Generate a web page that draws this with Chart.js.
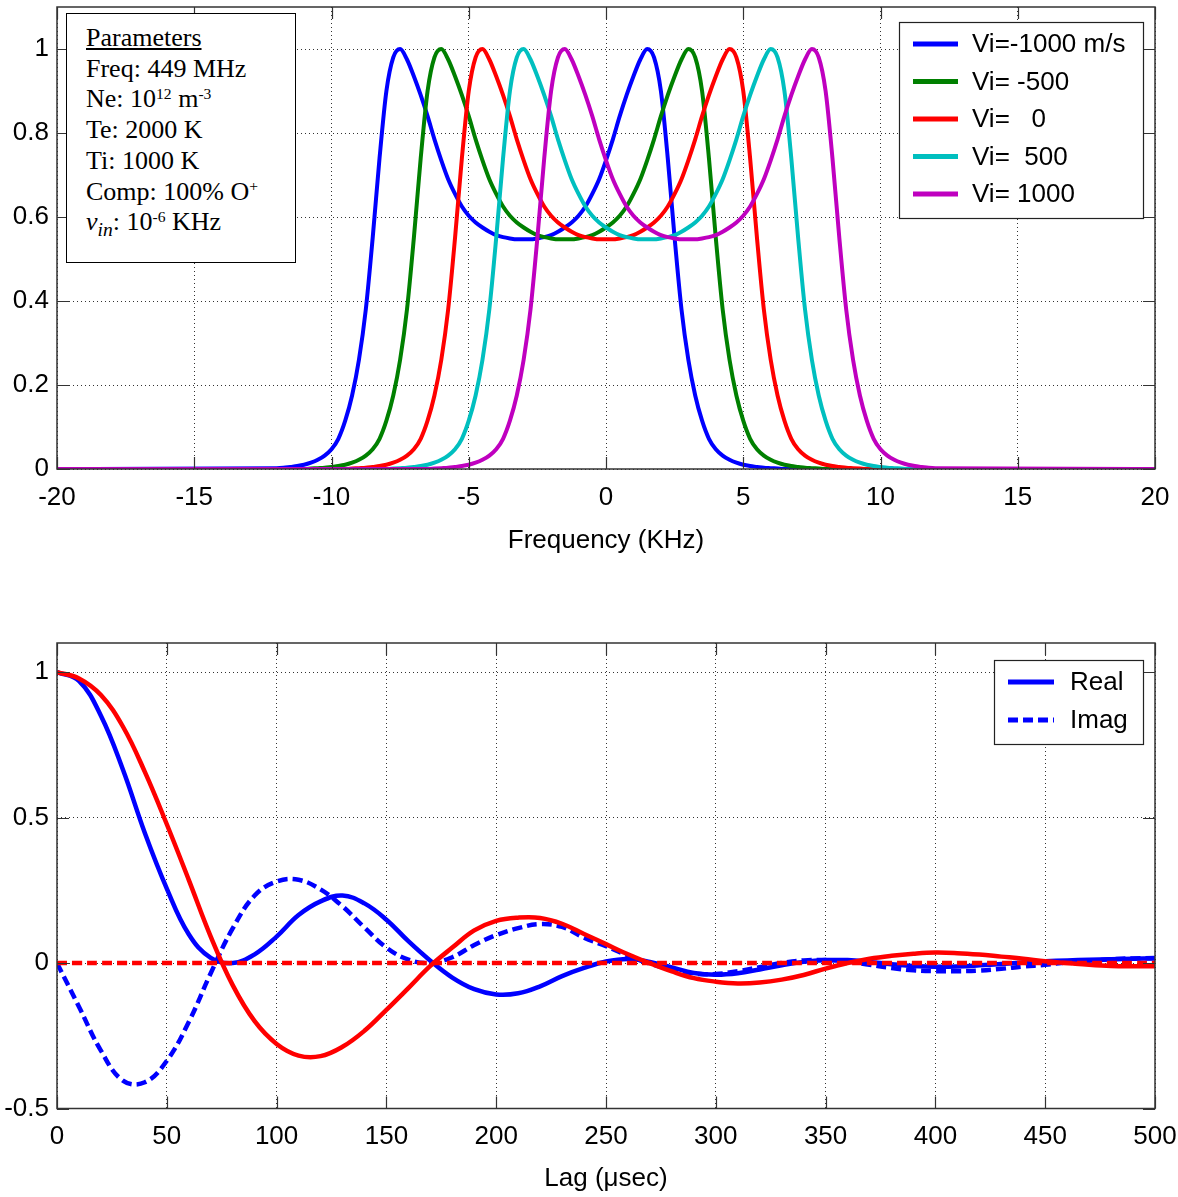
<!DOCTYPE html>
<html>
<head>
<meta charset="utf-8">
<title>Ion-line spectra and ACF</title>
<script src="https://cdn.jsdelivr.net/npm/chart.js@4.4.1/dist/chart.umd.min.js"></script>
<style>
  html, body { margin: 0; padding: 0; background: #fff; }
  #page { position: relative; width: 1178px; height: 1197px; overflow: hidden; }
  .panel { position: absolute; left: 0; width: 1178px; }
  #spec-wrap { top: 0; height: 580px; }
  #acf-wrap { top: 600px; height: 597px; }
  #params {
    position: absolute; left: 66px; top: 13px; width: 230px; height: 250px;
    box-sizing: border-box; border: 1px solid #000; background: #fff;
    padding: 9px 0 0 19px;
    font-family: "Liberation Serif", "Times New Roman", serif;
    font-size: 26px; line-height: 30.7px; color: #000;
  }
  #params sup { font-size: 60%; position: relative; top: -0.55em; vertical-align: baseline; line-height: 0; }
  #params sub { font-size: 75%; position: relative; top: 0.3em; vertical-align: baseline; line-height: 0; }
</style>
</head>
<body>
<div id="page">
  <div class="panel" id="spec-wrap"><canvas id="specChart"></canvas></div>
  <div class="panel" id="acf-wrap"><canvas id="acfChart"></canvas></div>
  <div id="params">
    <div><u>Parameters</u></div>
    <div>Freq: 449 MHz</div>
    <div>Ne: 10<sup>12</sup> m<sup>-3</sup></div>
    <div>Te: 2000 K</div>
    <div>Ti: 1000 K</div>
    <div>Comp: 100% O<sup>+</sup></div>
    <div><i>v</i><sub><i>in</i></sub>: 10<sup>-6</sup> KHz</div>
  </div>
</div>

<script>
// ---- top panel: spectra vs frequency (KHz) ----
const freqKHz = [-20,
  -12, -11.75, -11.5, -11.25, -11, -10.75, -10.5, -10.25,
  -10, -9.75, -9.5, -9.25, -9, -8.75, -8.5, -8.25,
  -8, -7.75, -7.5, -7.25, -7, -6.75, -6.5, -6.25,
  -6, -5.75, -5.5, -5.25, -5, -4.75, -4.5, -4.25,
  -4, -3.75, -3.5, -3.25, -3, -2.75, -2.5, -2.25,
  -2, -1.75, -1.5, -1.25, -1, -0.75, -0.5, -0.25,
  0, 0.25, 0.5, 0.75, 1, 1.25, 1.5, 1.75,
  2, 2.25, 2.5, 2.75, 3, 3.25, 3.5, 3.75,
  4, 4.25, 4.5, 4.75, 5, 5.25, 5.5, 5.75,
  6, 6.25, 6.5, 6.75, 7, 7.25, 7.5, 7.75,
  8, 8.25, 8.5, 8.75, 9, 9.25, 9.5, 9.75,
  10, 10.25, 10.5, 10.75, 11, 11.25, 11.5, 11.75,
  12,
  20];

const specVm1000 = [0,
  0.002, 0.003, 0.005, 0.007, 0.01, 0.015, 0.022, 0.032,
  0.047, 0.072, 0.115, 0.175, 0.26, 0.38, 0.55, 0.74,
  0.90, 0.98, 1.0, 0.975, 0.935, 0.89, 0.84, 0.785,
  0.735, 0.69, 0.655, 0.625, 0.603, 0.587, 0.575, 0.565,
  0.557, 0.552, 0.549, 0.547, 0.547, 0.547, 0.549, 0.552,
  0.557, 0.565, 0.575, 0.587, 0.603, 0.625, 0.655, 0.69,
  0.735, 0.785, 0.84, 0.89, 0.935, 0.975, 1.0, 0.98,
  0.90, 0.74, 0.55, 0.38, 0.26, 0.175, 0.115, 0.072,
  0.047, 0.032, 0.022, 0.015, 0.01, 0.007, 0.005, 0.003,
  0.002, 0.001, 0, 0, 0, 0, 0, 0,
  0, 0, 0, 0, 0, 0, 0, 0,
  0, 0, 0, 0, 0, 0, 0, 0,
  0,
  0];

const specVm500 = [0,
  0, 0, 0, 0, 0, 0.001, 0.002, 0.003,
  0.005, 0.007, 0.01, 0.015, 0.022, 0.032, 0.047, 0.072,
  0.115, 0.175, 0.26, 0.38, 0.55, 0.74, 0.90, 0.98,
  1.0, 0.975, 0.935, 0.89, 0.84, 0.785, 0.735, 0.69,
  0.655, 0.625, 0.603, 0.587, 0.575, 0.565, 0.557, 0.552,
  0.549, 0.547, 0.547, 0.547, 0.549, 0.552, 0.557, 0.565,
  0.575, 0.587, 0.603, 0.625, 0.655, 0.69, 0.735, 0.785,
  0.84, 0.89, 0.935, 0.975, 1.0, 0.98, 0.90, 0.74,
  0.55, 0.38, 0.26, 0.175, 0.115, 0.072, 0.047, 0.032,
  0.022, 0.015, 0.01, 0.007, 0.005, 0.003, 0.002, 0.001,
  0, 0, 0, 0, 0, 0, 0, 0,
  0, 0, 0, 0, 0, 0, 0, 0,
  0,
  0];

const specV0 = [0,
  0, 0, 0, 0, 0, 0, 0, 0,
  0, 0, 0, 0.001, 0.002, 0.003, 0.005, 0.007,
  0.01, 0.015, 0.022, 0.032, 0.047, 0.072, 0.115, 0.175,
  0.26, 0.38, 0.55, 0.74, 0.90, 0.98, 1.0, 0.975,
  0.935, 0.89, 0.84, 0.785, 0.735, 0.69, 0.655, 0.625,
  0.603, 0.587, 0.575, 0.565, 0.557, 0.552, 0.549, 0.547,
  0.547, 0.547, 0.549, 0.552, 0.557, 0.565, 0.575, 0.587,
  0.603, 0.625, 0.655, 0.69, 0.735, 0.785, 0.84, 0.89,
  0.935, 0.975, 1.0, 0.98, 0.90, 0.74, 0.55, 0.38,
  0.26, 0.175, 0.115, 0.072, 0.047, 0.032, 0.022, 0.015,
  0.01, 0.007, 0.005, 0.003, 0.002, 0.001, 0, 0,
  0, 0, 0, 0, 0, 0, 0, 0,
  0,
  0];

const specV500 = [0,
  0, 0, 0, 0, 0, 0, 0, 0,
  0, 0, 0, 0, 0, 0, 0, 0,
  0, 0.001, 0.002, 0.003, 0.005, 0.007, 0.01, 0.015,
  0.022, 0.032, 0.047, 0.072, 0.115, 0.175, 0.26, 0.38,
  0.55, 0.74, 0.90, 0.98, 1.0, 0.975, 0.935, 0.89,
  0.84, 0.785, 0.735, 0.69, 0.655, 0.625, 0.603, 0.587,
  0.575, 0.565, 0.557, 0.552, 0.549, 0.547, 0.547, 0.547,
  0.549, 0.552, 0.557, 0.565, 0.575, 0.587, 0.603, 0.625,
  0.655, 0.69, 0.735, 0.785, 0.84, 0.89, 0.935, 0.975,
  1.0, 0.98, 0.90, 0.74, 0.55, 0.38, 0.26, 0.175,
  0.115, 0.072, 0.047, 0.032, 0.022, 0.015, 0.01, 0.007,
  0.005, 0.003, 0.002, 0.001, 0, 0, 0, 0,
  0,
  0];

const specV1000 = [0,
  0, 0, 0, 0, 0, 0, 0, 0,
  0, 0, 0, 0, 0, 0, 0, 0,
  0, 0, 0, 0, 0, 0, 0, 0.001,
  0.002, 0.003, 0.005, 0.007, 0.01, 0.015, 0.022, 0.032,
  0.047, 0.072, 0.115, 0.175, 0.26, 0.38, 0.55, 0.74,
  0.90, 0.98, 1.0, 0.975, 0.935, 0.89, 0.84, 0.785,
  0.735, 0.69, 0.655, 0.625, 0.603, 0.587, 0.575, 0.565,
  0.557, 0.552, 0.549, 0.547, 0.547, 0.547, 0.549, 0.552,
  0.557, 0.565, 0.575, 0.587, 0.603, 0.625, 0.655, 0.69,
  0.735, 0.785, 0.84, 0.89, 0.935, 0.975, 1.0, 0.98,
  0.90, 0.74, 0.55, 0.38, 0.26, 0.175, 0.115, 0.072,
  0.047, 0.032, 0.022, 0.015, 0.01, 0.007, 0.005, 0.003,
  0.002,
  0];

const freqTicks = [-20, -15, -10, -5, 0, 5, 10, 15, 20];
const specTicks = [0, 0.2, 0.4, 0.6, 0.8, 1];

// ---- bottom panel: ACF vs lag (usec) ----
const lagUsec = [0, 10, 20, 30, 40, 50, 60, 70, 80, 90,
  100, 110, 120, 130, 140, 150, 160, 170, 180, 190,
  200, 210, 220, 230, 240, 250, 260, 270, 280, 290,
  300, 310, 320, 330, 340, 350, 360, 370, 380, 390,
  400, 410, 420, 430, 440, 450, 460, 470, 480, 490,
  500];

const blueReal = [1.0, 0.97, 0.85, 0.665, 0.447, 0.256, 0.099, 0.018, 0.0, 0.03,
  0.091, 0.165, 0.212, 0.232, 0.205, 0.149, 0.075, 0.008, -0.05, -0.09,
  -0.108, -0.104, -0.08, -0.045, -0.017, 0.005, 0.014, 0.004, -0.015, -0.034,
  -0.04, -0.035, -0.022, -0.008, 0.004, 0.01, 0.01, 0.004, -0.004, -0.01,
  -0.013, -0.012, -0.008, -0.003, 0.002, 0.006, 0.009, 0.011, 0.013, 0.015,
  0.016];

const blueImag = [0, -0.15, -0.301, -0.404, -0.41, -0.336, -0.203, -0.035, 0.119, 0.232,
  0.28, 0.286, 0.253, 0.195, 0.122, 0.053, 0.012, 0.0, 0.02, 0.062,
  0.096, 0.12, 0.134, 0.124, 0.087, 0.058, 0.026, -0.002, -0.022, -0.036,
  -0.038, -0.028, -0.014, 0.0, 0.009, 0.01, 0.005, -0.006, -0.017, -0.025,
  -0.028, -0.028, -0.026, -0.02, -0.012, -0.006, 0.002, 0.008, 0.013, 0.016,
  0.017];

const redReal = [1.0, 0.978, 0.921, 0.813, 0.657, 0.477, 0.286, 0.091, -0.076, -0.2,
  -0.278, -0.318, -0.32, -0.288, -0.233, -0.161, -0.086, -0.01, 0.053, 0.112,
  0.145, 0.156, 0.155, 0.135, 0.1, 0.065, 0.03, -0.001, -0.029, -0.052,
  -0.064, -0.07, -0.067, -0.057, -0.041, -0.019, 0.0, 0.015, 0.025, 0.032,
  0.036, 0.034, 0.029, 0.022, 0.015, 0.006, 0.0, -0.006, -0.01, -0.011,
  -0.011];

const redImag = [0, 0, 0, 0, 0, 0, 0, 0, 0, 0,
  0, 0, 0, 0, 0, 0, 0, 0, 0, 0,
  0, 0, 0, 0, 0, 0, 0, 0, 0, 0,
  0, 0, 0, 0, 0, 0, 0, 0, 0, 0,
  0, 0, 0, 0, 0, 0, 0, 0, 0, 0,
  0];

const lagTicks = [0, 50, 100, 150, 200, 250, 300, 350, 400, 450, 500];
const acfTicks = [-0.5, 0, 0.5, 1];

const FONT_FAMILY = '"Liberation Sans", Arial, Helvetica, sans-serif';
const TEXT_FONT = { family: FONT_FAMILY, size: 26 };
const TICK_LEN = 12;

function toPoints(xs, ys) {
  return xs.map((x, i) => ({ x: x, y: ys[i] }));
}

// box + inward tick marks, the matlab look
const axesFrame = {
  id: "axesFrame",
  afterDraw(chart) {
    const { ctx, chartArea: a, scales } = chart;
    ctx.save();
    ctx.strokeStyle = "#333";
    ctx.lineWidth = 1.5;
    ctx.strokeRect(a.left, a.top, a.right - a.left, a.bottom - a.top);
    ctx.beginPath();
    scales.x.ticks.forEach(t => {
      const px = Math.round(scales.x.getPixelForValue(t.value)) + 0.5;
      ctx.moveTo(px, a.bottom); ctx.lineTo(px, a.bottom - TICK_LEN);
      ctx.moveTo(px, a.top); ctx.lineTo(px, a.top + TICK_LEN);
    });
    scales.y.ticks.forEach(t => {
      const py = Math.round(scales.y.getPixelForValue(t.value)) + 0.5;
      ctx.moveTo(a.left, py); ctx.lineTo(a.left + TICK_LEN, py);
      ctx.moveTo(a.right, py); ctx.lineTo(a.right - TICK_LEN, py);
    });
    ctx.lineWidth = 1.2;
    ctx.stroke();
    ctx.restore();
  }
};

const boxLegend = {
  id: "boxLegend",
  afterDraw(chart, args, opts) {
    const { ctx } = chart;
    ctx.save();
    ctx.fillStyle = "#fff";
    ctx.fillRect(opts.x, opts.y, opts.w, opts.h);
    ctx.strokeStyle = "#222";
    ctx.lineWidth = 1.2;
    ctx.strokeRect(opts.x + 0.5, opts.y + 0.5, opts.w, opts.h);
    ctx.font = `${TEXT_FONT.size}px ${FONT_FAMILY}`;
    ctx.textBaseline = "middle";
    opts.items.forEach((idx, n) => {
      const ds = chart.data.datasets[idx];
      const y = opts.y + opts.first + n * opts.step;
      ctx.strokeStyle = ds.borderColor;
      ctx.lineWidth = 5;
      ctx.setLineDash(ds.borderDash || []);
      ctx.beginPath();
      ctx.moveTo(opts.x + opts.lineFrom, y);
      ctx.lineTo(opts.x + opts.lineTo, y);
      ctx.stroke();
      ctx.setLineDash([]);
      ctx.fillStyle = "#000";
      ctx.fillText(ds.label, opts.x + opts.textX, y + 1);
    });
    ctx.restore();
  }
};

function axis(cfg) {
  return {
    type: "linear",
    min: cfg.min,
    max: cfg.max,
    afterBuildTicks: s => { s.ticks = cfg.ticks.map(v => ({ value: v })); },
    afterFit: cfg.fit,
    grid: { color: "rgba(0,0,0,0.8)", lineWidth: 1, drawTicks: false },
    border: { display: false, dash: [1, 3] },
    ticks: {
      color: "#000", font: TEXT_FONT, padding: cfg.pad,
      autoSkip: false, maxRotation: 0, callback: v => String(v)
    },
    title: cfg.title
      ? { display: true, text: cfg.title, color: "#000", font: TEXT_FONT, padding: { top: 0, bottom: cfg.titlePad } }
      : { display: false }
  };
}

function baseOptions(padTop, legendOpts, scales, interp) {
  return {
    responsive: true,
    maintainAspectRatio: false,
    animation: false,
    events: [],
    layout: { padding: { top: padTop, right: 23, left: 0, bottom: 0 } },
    elements: { point: { radius: 0 }, line: interp },
    plugins: { legend: { display: false }, tooltip: { enabled: false }, boxLegend: legendOpts },
    scales: scales
  };
}

// top: spectra
const specSeries = [
  { label: "Vi=-1000 m/s", values: specVm1000, color: "#0000ff", order: 5 },
  { label: "Vi= -500", values: specVm500, color: "#008000", order: 4 },
  { label: "Vi=   0", values: specV0, color: "#ff0000", order: 3 },
  { label: "Vi=  500", values: specV500, color: "#00bfbf", order: 2 },
  { label: "Vi= 1000", values: specV1000, color: "#bf00bf", order: 1 }
];

new Chart(document.getElementById("specChart"), {
  type: "line",
  data: {
    datasets: specSeries.map(s => ({
      label: s.label,
      data: toPoints(freqKHz, s.values),
      borderColor: s.color,
      borderWidth: 4,
      order: s.order
    }))
  },
  options: baseOptions(7,
    { x: 899, y: 22, w: 244, h: 196, first: 22, step: 37.5, lineFrom: 14, lineTo: 59, textX: 73, items: [0, 1, 2, 3, 4] },
    {
      x: axis({ min: -20, max: 20, ticks: freqTicks, pad: 13, title: "Frequency (KHz)", titlePad: 24,
        fit: s => { s.height = 111; s.paddingLeft = 0; s.paddingRight = 0; } }),
      y: axis({ min: 0, max: 1.1, ticks: specTicks, pad: 8,
        fit: s => { s.width = 57; s.paddingTop = 0; s.paddingBottom = 0; } })
    },
    { cubicInterpolationMode: "monotone" }),
  plugins: [axesFrame, boxLegend]
});

// bottom: autocorrelation
const acfSeries = [
  { label: "Imag", values: redImag, color: "#ff0000", dash: [10, 5], order: 1 },
  { label: "Real", values: redReal, color: "#ff0000", dash: [], order: 2 },
  { label: "Imag", values: blueImag, color: "#0000ff", dash: [10, 5], order: 3 },
  { label: "Real", values: blueReal, color: "#0000ff", dash: [], order: 4 }
];

new Chart(document.getElementById("acfChart"), {
  type: "line",
  data: {
    datasets: acfSeries.map(s => ({
      label: s.label,
      data: toPoints(lagUsec, s.values),
      borderColor: s.color,
      borderDash: s.dash,
      borderWidth: 4.5,
      order: s.order
    }))
  },
  options: baseOptions(43,
    { x: 994, y: 60, w: 149, h: 84, first: 22, step: 38, lineFrom: 14, lineTo: 60, textX: 76, items: [3, 2] },
    {
      x: axis({ min: 0, max: 500, ticks: lagTicks, pad: 13, title: "Lag (\u03bcsec)", titlePad: 3,
        fit: s => { s.height = 88.5; s.paddingLeft = 0; s.paddingRight = 0; } }),
      y: axis({ min: -0.5, max: 1.1, ticks: acfTicks, pad: 8,
        fit: s => { s.width = 57; s.paddingTop = 0; s.paddingBottom = 0; } })
    },
    { tension: 0.4 }),
  plugins: [axesFrame, boxLegend]
});
</script>
</body>
</html>
